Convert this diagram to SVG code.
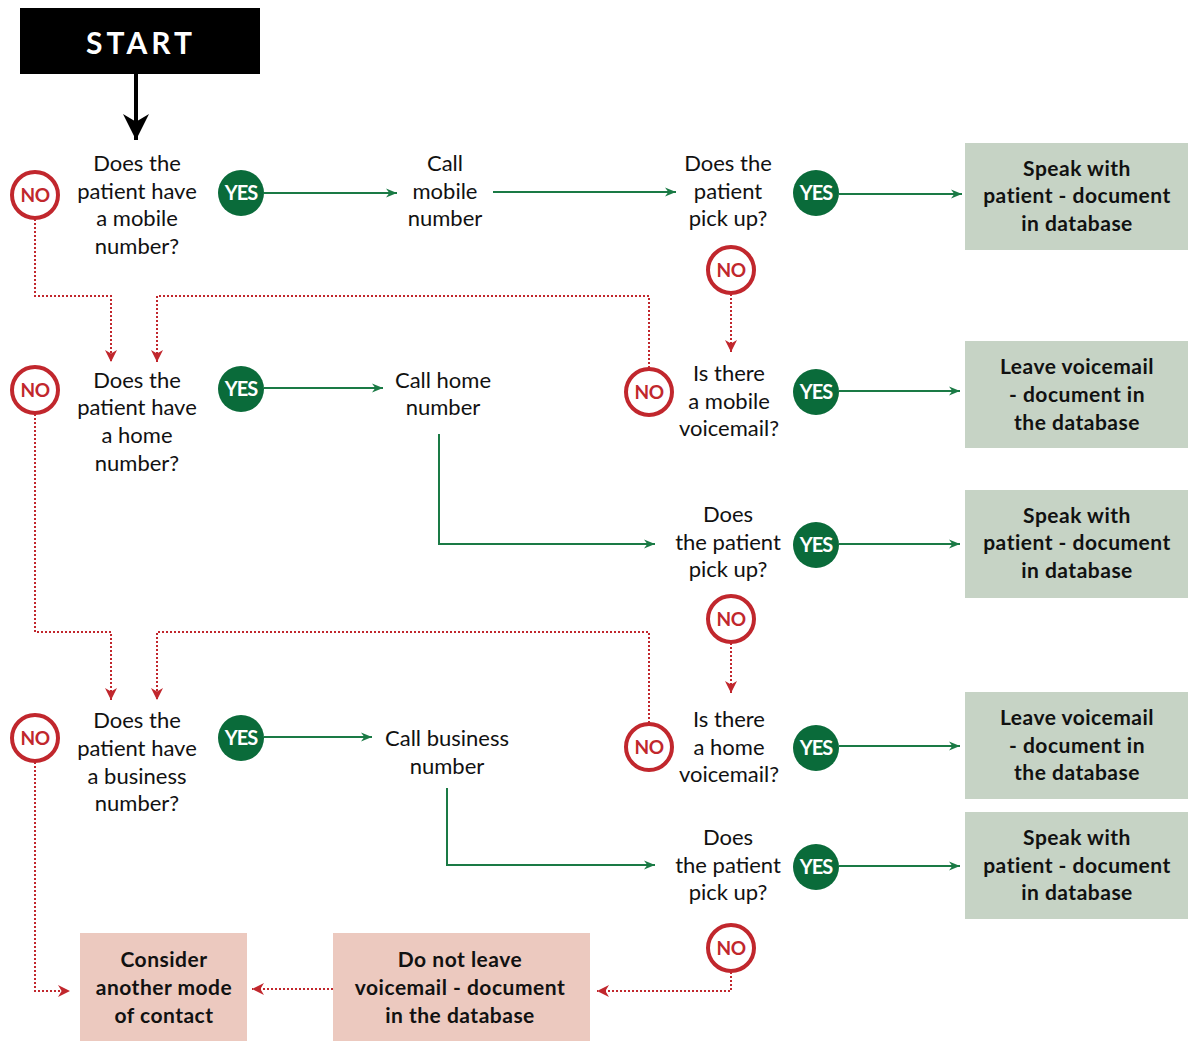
<svg xmlns="http://www.w3.org/2000/svg" width="1188" height="1042" viewBox="0 0 1188 1042">
<defs>
<style>
.q{font-family:Lato,"Open Sans",sans-serif;font-size:22px;fill:#111;text-anchor:middle}
.b{font-family:Lato,"Open Sans",sans-serif;font-size:21px;font-weight:bold;fill:#111;text-anchor:middle;letter-spacing:0.5px}
.no circle{fill:#fff;stroke:#c1272d;stroke-width:4}
.no text{font-family:Lato,"Open Sans",sans-serif;font-size:19px;font-weight:bold;fill:#c1272d;text-anchor:middle;letter-spacing:-0.5px}
.yes circle{fill:#0a6b3a}
.yes text{font-family:Lato,"Open Sans",sans-serif;font-size:20px;font-weight:bold;fill:#fff;text-anchor:middle;letter-spacing:-1px}
.gb{fill:#c6d3c5}
.pb{fill:#ecc9bf}
.g{stroke:#1a7a45;stroke-width:2;fill:none;marker-end:url(#ag)}
.r{stroke:#c1272d;stroke-width:2;stroke-dasharray:2 2;fill:none;marker-end:url(#ar)}
</style>
<marker id="ag" viewBox="0 0 10 10" refX="10" refY="5" markerWidth="11" markerHeight="11" markerUnits="userSpaceOnUse" orient="auto"><path d="M0,1 L10,5 L0,9 L3,5 z" fill="#1a7a45"/></marker>
<marker id="ar" viewBox="0 0 10 10" refX="10" refY="5" markerWidth="12" markerHeight="12" markerUnits="userSpaceOnUse" orient="auto"><path d="M0,0 L10,5 L0,10 L3,5 z" fill="#c1272d"/></marker>
<marker id="ab" viewBox="0 0 10 10" refX="10" refY="5" markerWidth="26" markerHeight="26" markerUnits="userSpaceOnUse" orient="auto"><path d="M0,0 L10,5 L0,10 L3,5 z" fill="#000"/></marker>
</defs>
<rect width="1188" height="1042" fill="#fff"/>

<g id="connectors">
<line x1="136" y1="74" x2="136" y2="140" stroke="#000" stroke-width="4" marker-end="url(#ab)"/>
<line class="g" x1="264" y1="193" x2="397" y2="193"/>
<line class="g" x1="493" y1="192" x2="676" y2="192"/>
<line class="g" x1="839" y1="194" x2="962" y2="194"/>
<line class="g" x1="264" y1="388" x2="383" y2="388"/>
<line class="g" x1="839" y1="391" x2="960" y2="391"/>
<polyline class="g" points="439,434 439,544 655,544"/>
<line class="g" x1="839" y1="544" x2="960" y2="544"/>
<line class="g" x1="264" y1="737" x2="372" y2="737"/>
<line class="g" x1="839" y1="746" x2="960" y2="746"/>
<polyline class="g" points="447,788 447,865 655,865"/>
<line class="g" x1="839" y1="866" x2="960" y2="866"/>
<polyline class="r" points="35,219 35,296 111,296 111,362"/>
<polyline class="r" points="649,368 649,296 157,296 157,362"/>
<line class="r" x1="731" y1="294" x2="731" y2="352"/>
<polyline class="r" points="35,414 35,632 111,632 111,700"/>
<polyline class="r" points="649,723 649,632 157,632 157,700"/>
<line class="r" x1="731" y1="643" x2="731" y2="693"/>
<polyline class="r" points="35,762 35,991 70,991"/>
<polyline class="r" points="731,972 731,991 597,991"/>
<line class="r" x1="333" y1="989" x2="252" y2="989"/>
</g>

<g id="start"><rect x="20" y="8" width="240" height="66" fill="#000"/><text x="141" y="54" font-family="Lato,'Open Sans',sans-serif" font-size="30" font-weight="bold" fill="#fff" text-anchor="middle" letter-spacing="4">START</text></g>

<g id="q-mobile"><text class="q"><tspan x="137" y="171">Does the</tspan><tspan x="137" y="199">patient have</tspan><tspan x="137" y="226">a mobile</tspan><tspan x="137" y="254">number?</tspan></text></g>
<g id="no1" class="no"><circle cx="35" cy="195" r="23"/><text x="35" y="202">NO</text></g>
<g id="yes1" class="yes"><circle cx="241" cy="193" r="23"/><text x="241" y="200">YES</text></g>
<g id="call-mobile"><text class="q"><tspan x="445" y="171">Call</tspan><tspan x="445" y="199">mobile</tspan><tspan x="445" y="226">number</tspan></text></g>
<g id="q-pickup1"><text class="q"><tspan x="728" y="171">Does the</tspan><tspan x="728" y="199">patient</tspan><tspan x="728" y="226">pick up?</tspan></text></g>
<g id="yes2" class="yes"><circle cx="816" cy="193" r="23"/><text x="816" y="200">YES</text></g>
<g id="box1"><rect class="gb" x="965" y="143" width="223" height="107"/><text class="b"><tspan x="1077" y="176">Speak with</tspan><tspan x="1077" y="203">patient - document</tspan><tspan x="1077" y="231">in database</tspan></text></g>
<g id="no2" class="no"><circle cx="731" cy="270" r="23"/><text x="731" y="277">NO</text></g>

<g id="q-home"><text class="q"><tspan x="137" y="388">Does the</tspan><tspan x="137" y="415">patient have</tspan><tspan x="137" y="443">a home</tspan><tspan x="137" y="471">number?</tspan></text></g>
<g id="no3" class="no"><circle cx="35" cy="390" r="23"/><text x="35" y="397">NO</text></g>
<g id="yes3" class="yes"><circle cx="241" cy="389" r="23"/><text x="241" y="396">YES</text></g>
<g id="call-home"><text class="q"><tspan x="443" y="388">Call home</tspan><tspan x="443" y="415">number</tspan></text></g>
<g id="q-mvm"><text class="q"><tspan x="729" y="381">Is there</tspan><tspan x="729" y="409">a mobile</tspan><tspan x="729" y="436">voicemail?</tspan></text></g>
<g id="no4" class="no"><circle cx="649" cy="392" r="23"/><text x="649" y="399">NO</text></g>
<g id="yes4" class="yes"><circle cx="816" cy="392" r="23"/><text x="816" y="399">YES</text></g>
<g id="box2"><rect class="gb" x="965" y="341" width="223" height="107"/><text class="b"><tspan x="1077" y="374">Leave voicemail</tspan><tspan x="1077" y="402">- document in</tspan><tspan x="1077" y="430">the database</tspan></text></g>

<g id="q-pickup2"><text class="q"><tspan x="728" y="522">Does</tspan><tspan x="728" y="550">the patient</tspan><tspan x="728" y="577">pick up?</tspan></text></g>
<g id="yes5" class="yes"><circle cx="816" cy="545" r="23"/><text x="816" y="552">YES</text></g>
<g id="box3"><rect class="gb" x="965" y="490" width="223" height="108"/><text class="b"><tspan x="1077" y="523">Speak with</tspan><tspan x="1077" y="550">patient - document</tspan><tspan x="1077" y="578">in database</tspan></text></g>
<g id="no5" class="no"><circle cx="731" cy="619" r="23"/><text x="731" y="626">NO</text></g>

<g id="q-business"><text class="q"><tspan x="137" y="728">Does the</tspan><tspan x="137" y="756">patient have</tspan><tspan x="137" y="784">a business</tspan><tspan x="137" y="811">number?</tspan></text></g>
<g id="no6" class="no"><circle cx="35" cy="738" r="23"/><text x="35" y="745">NO</text></g>
<g id="yes6" class="yes"><circle cx="241" cy="738" r="23"/><text x="241" y="745">YES</text></g>
<g id="call-business"><text class="q"><tspan x="447" y="746">Call business</tspan><tspan x="447" y="774">number</tspan></text></g>
<g id="q-hvm"><text class="q"><tspan x="729" y="727">Is there</tspan><tspan x="729" y="755">a home</tspan><tspan x="729" y="782">voicemail?</tspan></text></g>
<g id="no7" class="no"><circle cx="649" cy="747" r="23"/><text x="649" y="754">NO</text></g>
<g id="yes7" class="yes"><circle cx="816" cy="748" r="23"/><text x="816" y="755">YES</text></g>
<g id="box4"><rect class="gb" x="965" y="692" width="223" height="107"/><text class="b"><tspan x="1077" y="725">Leave voicemail</tspan><tspan x="1077" y="753">- document in</tspan><tspan x="1077" y="780">the database</tspan></text></g>

<g id="q-pickup3"><text class="q"><tspan x="728" y="845">Does</tspan><tspan x="728" y="873">the patient</tspan><tspan x="728" y="900">pick up?</tspan></text></g>
<g id="yes8" class="yes"><circle cx="816" cy="867" r="23"/><text x="816" y="874">YES</text></g>
<g id="box5"><rect class="gb" x="965" y="812" width="223" height="107"/><text class="b"><tspan x="1077" y="845">Speak with</tspan><tspan x="1077" y="873">patient - document</tspan><tspan x="1077" y="900">in database</tspan></text></g>
<g id="no8" class="no"><circle cx="731" cy="948" r="23"/><text x="731" y="955">NO</text></g>

<g id="box-donot"><rect class="pb" x="333" y="933" width="257" height="108"/><text class="b"><tspan x="460" y="967">Do not leave</tspan><tspan x="460" y="995">voicemail - document</tspan><tspan x="460" y="1023">in the database</tspan></text></g>
<g id="box-consider"><rect class="pb" x="80" y="933" width="167" height="108"/><text class="b"><tspan x="164" y="967">Consider</tspan><tspan x="164" y="995">another mode</tspan><tspan x="164" y="1023">of contact</tspan></text></g>
</svg>
